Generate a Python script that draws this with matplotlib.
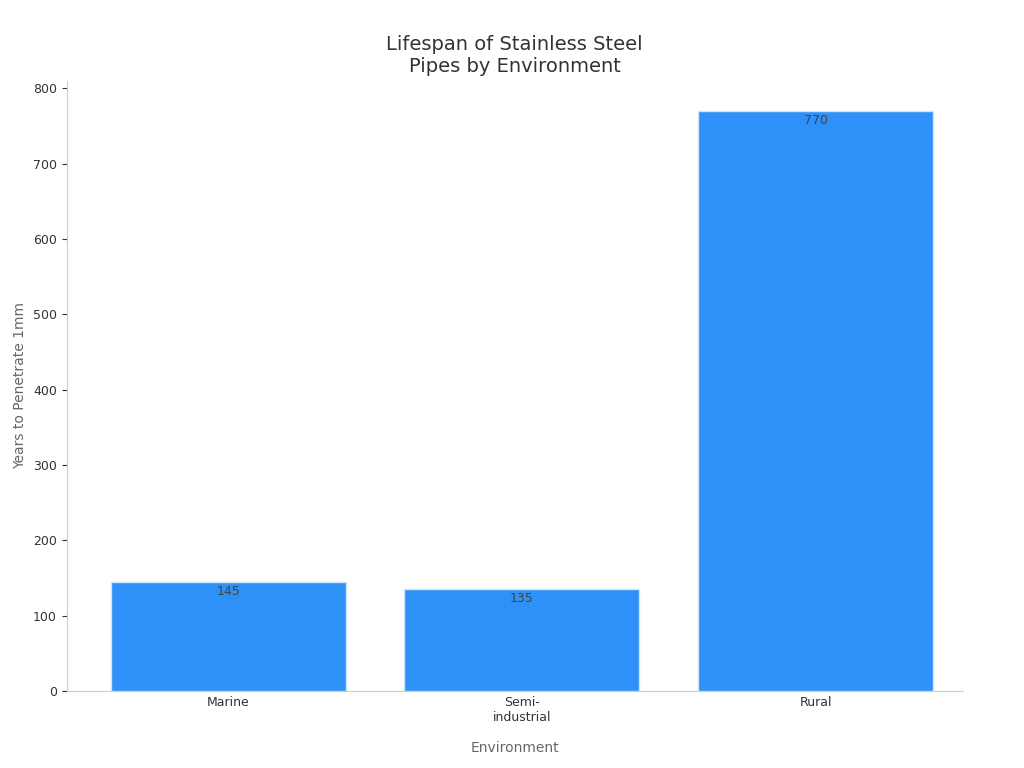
import matplotlib.pyplot as plt

# data
environments = ["Marine", "Semi-\nindustrial", "Rural"]
years = [145, 135, 770]

fig, ax = plt.subplots(figsize=(10.24, 7.68), dpi=100)
fig.subplots_adjust(left=0.065, right=0.94, top=0.895, bottom=0.1)

bars = ax.bar(environments, years, width=0.8, color="#2e91f7", edgecolor="#d0e4f7", linewidth=1)
for b, v in zip(bars, years):
    ax.text(b.get_x() + b.get_width() / 2, v - 4, str(v), ha="center", va="top",
            fontsize=9, color="#444444")

ax.set_ylim(0, 810)
ax.set_xlim(-0.55, 2.5)
ax.set_title("Lifespan of Stainless Steel\nPipes by Environment", fontsize=14, color="#333333")
ax.set_xlabel("Environment", fontsize=10, color="#666666", labelpad=12)
ax.set_ylabel("Years to Penetrate 1mm", fontsize=10, color="#666666")
ax.tick_params(labelsize=9, colors="#333333")
ax.tick_params(axis="x", length=0)
for s in ["top", "right"]:
    ax.spines[s].set_visible(False)
for s in ["left", "bottom"]:
    ax.spines[s].set_color("#cccccc")

plt.savefig("out.png")
